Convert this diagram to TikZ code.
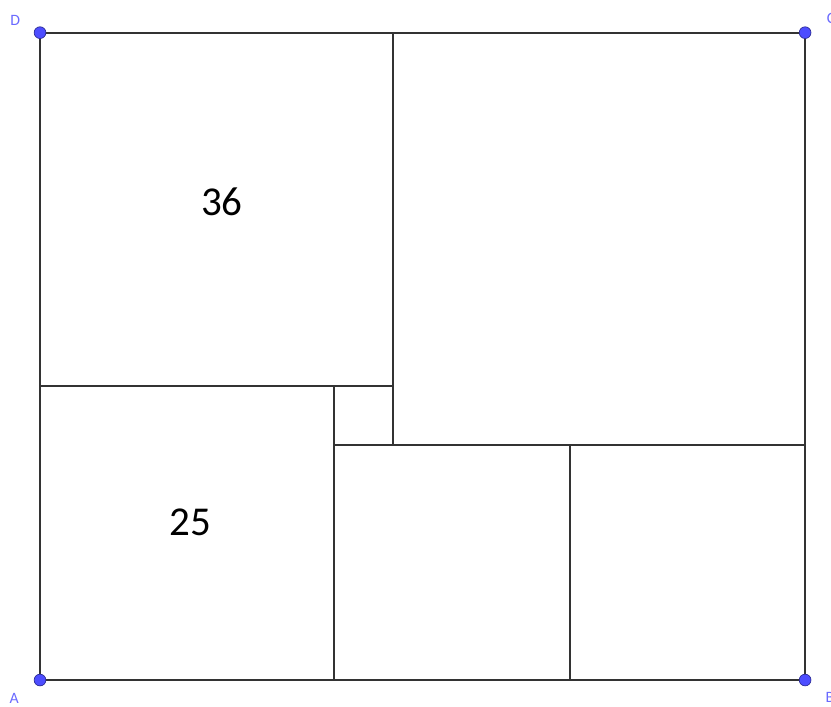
\documentclass[tikz,border=0pt]{standalone}
\usepackage{fontspec}
\setmainfont{Carlito}
\usetikzlibrary{positioning}
\definecolor{ptblue}{HTML}{4D4DFF}
\definecolor{lblblue}{HTML}{6A6AFF}
\tikzset{
  pt/.style={circle, fill=ptblue, draw=ptblue!60!black, line width=0.6pt, inner sep=0pt, minimum size=10pt},
  ptlabel/.style={text=lblblue, font=\fontsize{13.5}{15}\selectfont},
  area/.style={font=\fontsize{35}{40}\selectfont}
}
\begin{document}
\begin{tikzpicture}[x=1.7655cm, y=1.7655cm, line width=1.7pt]
    \useasboundingbox (-0.68, -0.442) rectangle (13.44, 11.555);
    \coordinate (A) at (0, 0);
    \coordinate (B) at (13, 0);
    \coordinate (C) at (13, 11);
    \coordinate (D) at (0, 11);

    % outer rectangle
    \draw [black!80] (A) -- (B) -- (C) -- (D) -- cycle;

    % inner cuts
    \draw [black!80] (6, 11) -- (6, 4);
    \draw [black!80] (0, 5) -- (6, 5);
    \draw [black!80] (5, 0) -- (5, 5);
    \draw [black!80] (5, 4) -- (13, 4);
    \draw [black!80] (9, 0) -- (9, 4);

    \node [area] (n36) at (3.09, 8.12) {36};
    \node [area] (n25) at (2.55, 2.68) {25};

    \node [pt] at (A) {};
    \node [pt] at (B) {};
    \node [pt] at (C) {};
    \node [pt] at (D) {};
    \node [ptlabel] (lA) at (-0.44, -0.32) {A};
    \node [ptlabel] (lB) at (13.42, -0.29) {B};
    \node [ptlabel] (lC) at (13.44, 11.25) {C};
    \node [ptlabel] (lD) at (-0.42, 11.2) {D};
\end{tikzpicture}
\end{document}
